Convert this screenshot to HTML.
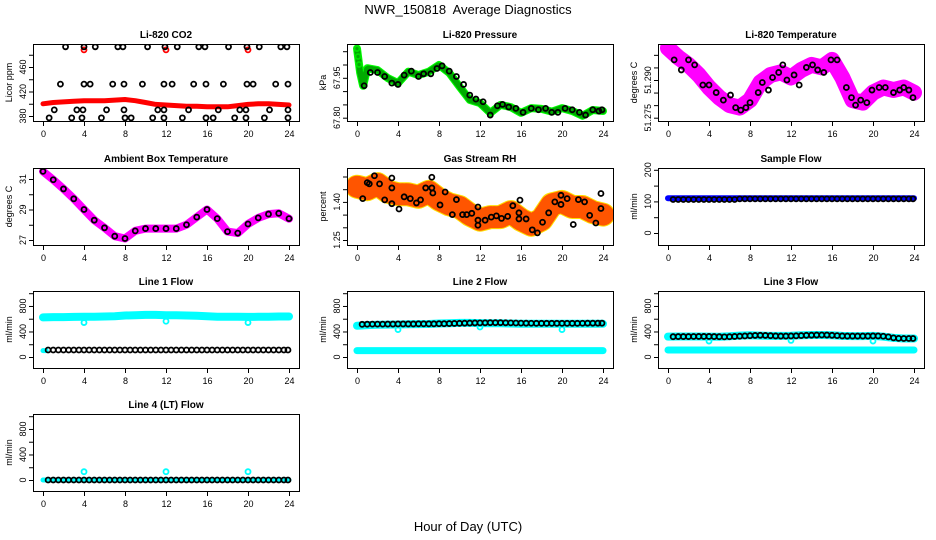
<!DOCTYPE html>
<html><head><meta charset="utf-8"><style>
html,body{margin:0;padding:0;background:#fff;}
svg{display:block;font-family:"Liberation Sans",sans-serif;}
</style></head><body>
<svg id="chart" width="936" height="540" viewBox="0 0 936 540" xmlns="http://www.w3.org/2000/svg">
<text x="468" y="14" font-size="13" text-anchor="middle" xml:space="preserve">NWR_150818  Average Diagnostics</text>
<text x="468" y="531" font-size="13" text-anchor="middle">Hour of Day (UTC)</text>
</svg>
<script>
// ---------- data ----------
const xTicks = [0,4,8,12,16,20,24];
const hours = [0,1,2,3,4,5,6,7,8,9,10,11,12,13,14,15,16,17,18,19,20,21,22,23,24];
const halfHours = [0.5,1,1.5,2,2.5,3,3.5,4,4.5,5,5.5,6,6.5,7,7.5,8,8.5,9,9.5,10,10.5,11,11.5,12,12.5,13,13.5,14,14.5,15,15.5,16,16.5,17,17.5,18,18.5,19,19.5,20,20.5,21,21.5,22,22.5,23,23.5,23.9];

const co2Red = [400,402,403,404,405,405,405,406,407,405,402,399,398,397,396,396,395,395,395,397,399,400,400,399,398];
const co2SpikeHours = [4,12,20];
const co2SpikeVals = [488,488,488];
const co2BlackHours = [2.2,4.0,5.1,7.3,7.8,10.2,11.9,13.1,15.2,15.8,18.1,19.9,21.1,23.2,23.8, 1.7,4.0,4.6,6.8,7.9,9.7,11.8,12.6,14.7,15.9,17.6,19.9,20.5,22.7,23.9, 1.1,3.3,3.9,6.2,7.9,11.2,11.8,14.2,17.1,19.2,19.8,22.1,23.9, 0.6,2.8,3.8,5.7,8.0,8.6,10.7,11.8,13.6,15.9,16.6,18.7,19.8,21.6,23.9];
const co2BlackVals = [493,493,493,493,493,493,493,493,493,493,493,493,493,493,493, 432,432,432,432,432,432,432,432,432,432,432,432,432,432,432, 390,390,390,390,390,390,390,390,390,390,390,390,390, 377,377,377,377,377,377,377,377,377,377,377,377,377,377,377];

const pressHours = [0,0.3,0.6,1,2,3,4,5,6,7,8,9,10,11,12,13,14,15,16,17,18,19,20,21,22,23,24];
const pressBand = [68.06,67.97,67.92,67.986,67.979,67.949,67.93,67.973,67.96,67.973,67.998,67.968,67.917,67.867,67.855,67.818,67.848,67.84,67.818,67.836,67.833,67.823,67.836,67.825,67.807,67.829,67.825];
const pressBlackHours = [0.7,1.3,2,2.7,3.4,4,4.6,5.3,6,6.5,7.2,7.8,8.3,9,9.7,10.4,11,11.6,12.3,13,13.7,14.2,14.8,15.5,16.2,17,17.7,18.4,19,19.6,20.3,21,21.7,22.3,23,23.6,23.9];
const pressBlack = [67.92,67.97,67.97,67.955,67.93,67.925,67.96,67.975,67.955,67.965,67.965,67.985,67.995,67.975,67.955,67.925,67.885,67.87,67.86,67.81,67.845,67.85,67.84,67.835,67.82,67.835,67.83,67.835,67.82,67.82,67.835,67.83,67.82,67.81,67.83,67.825,67.83];

const tempBand = [51.3027,51.299,51.296,51.292,51.287,51.283,51.280,51.279,51.282,51.289,51.292,51.293,51.291,51.294,51.296,51.295,51.298,51.291,51.282,51.281,51.285,51.287,51.286,51.287,51.285];
const tempBlackHours = [0.6,1.3,2,2.6,3.4,4,4.7,5.4,6.1,6.6,7.1,7.6,8,8.8,9.2,9.8,10.2,10.8,11.2,11.6,12.3,12.8,13.5,14.1,14.6,15.2,15.9,16.5,17.4,17.9,18.3,18.8,19.4,19.9,20.6,21.2,22,22.6,23,23.5,23.9];
const tempBlack = [51.298,51.294,51.298,51.296,51.288,51.288,51.285,51.282,51.284,51.279,51.278,51.279,51.281,51.285,51.289,51.286,51.291,51.293,51.296,51.290,51.292,51.288,51.295,51.296,51.294,51.293,51.298,51.298,51.287,51.283,51.280,51.282,51.281,51.286,51.287,51.287,51.285,51.286,51.287,51.286,51.283];

const ambBand = [31.5,30.95,30.35,29.7,29.0,28.3,27.8,27.25,27.1,27.6,27.75,27.75,27.75,27.75,28.0,28.5,29.0,28.4,27.55,27.45,28.05,28.45,28.7,28.75,28.4];

const rhBand = [1.46,1.45,1.47,1.44,1.43,1.43,1.42,1.44,1.41,1.39,1.38,1.35,1.33,1.34,1.34,1.36,1.33,1.31,1.33,1.39,1.40,1.38,1.38,1.36,1.35];
const rhBlackHours = [0.56,1.0,1.2,1.7,2.2,2.7,3.4,3.4,3.4,4.1,4.6,5.2,5.8,6.2,6.7,7.3,7.3,7.4,8.1,8.6,9.7,9.3,10.3,10.7,11.2,11.8,11.8,11.8,12.5,13.1,13.6,14.1,14.7,15.2,15.9,15.8,15.8,16.5,17.1,17.6,18.1,18.7,19.3,19.9,19.9,20.5,21.1,21.6,22.2,22.7,23.3,23.8,23.8];
const rhBlack = [1.413,1.476,1.471,1.503,1.471,1.408,1.494,1.455,1.393,1.372,1.42,1.413,1.396,1.408,1.455,1.497,1.455,1.435,1.388,1.439,1.409,1.35,1.35,1.35,1.355,1.38,1.328,1.308,1.328,1.34,1.345,1.335,1.343,1.385,1.407,1.357,1.333,1.333,1.29,1.278,1.32,1.357,1.40,1.426,1.39,1.413,1.311,1.409,1.40,1.347,1.317,1.433,1.374];

const sampleBlue = [110,110,110,110,110,110,110,110,110,110,110,110,110,110,110,110,110,110,110,110,110,110,110,110,110];
const sampleBlack = [106,106,106,106,106,106,106,106,106,106,106,106,106,108,108,108,108,108,108,108,108,108,108,108,108,108,108,108,108,108,108,108,108,108,108,108,108,108,108,108,108,108,108,108,108,108,108,108];

const l1CyanHi = [620,625,625,628,630,632,635,640,650,655,660,660,655,655,650,645,640,632,630,630,628,630,632,635,635];
const l1CyanLo = [100,100,100,100,100,100,100,100,100,100,100,100,100,100,100,100,100,100,100,100,100,100,100,100,100];
const l1Black = [110,110,110,110,110,110,110,110,110,110,110,110,110,110,110,110,110,110,110,110,110,110,110,110,110,110,110,110,110,110,110,110,110,110,110,110,110,110,110,110,110,110,110,110,110,110,110,110];
const l1DipVals = [540,560,540];

const l2CyanHi = [490,500,505,508,510,512,515,518,525,530,535,535,532,530,528,525,522,520,520,520,520,520,520,520,520];
const l2CyanLo = [100,100,100,100,100,100,100,100,100,100,100,100,100,100,100,100,100,100,100,100,100,100,100,100,100];
const l2Black = [512,514,515,515,515,516,516,518,518,518,518,520,520,520,520,522,522,524,526,528,530,532,534,535,536,538,538,538,536,535,533,531,530,529,528,528,528,528,528,528,528,528,528,529,530,530,530,530];
const l2DipVals = [430,470,430];

const l3CyanHi = [320,322,322,322,320,318,325,335,340,335,330,330,332,340,345,345,340,330,328,328,330,320,300,290,290];
const l3CyanLo = [110,110,110,110,110,110,110,110,110,110,110,110,110,110,110,110,110,110,110,110,110,110,110,110,110];
const l3Black = [318,320,320,320,321,322,322,322,320,318,316,318,322,326,330,334,338,340,338,334,330,328,328,330,332,336,340,342,344,345,344,340,335,330,328,328,328,328,328,330,330,325,315,300,292,290,290,290];
const l3DipVals = [250,260,250];

const l4Cyan = [0,0,0,0,0,0,0,0,0,0,0,0,0,0,0,0,0,0,0,0,0,0,0,0,0];
const l4Black = [0,0,0,0,0,0,0,0,0,0,0,0,0,0,0,0,0,0,0,0,0,0,0,0,0,0,0,0,0,0,0,0,0,0,0,0,0,0,0,0,0,0,0,0,0,0,0,0];
const l4SpikeVals = [130,130,130];
const dipHours = [4,12,20];

// ---------- helpers ----------
const svg = document.getElementById('chart');
const NS = 'http://www.w3.org/2000/svg';
const colLeft = [33,347,658], rowTop = [44,168,291,414], W = 266, H = 77;
function mk(tag, attrs, parent){
  const e = document.createElementNS(NS, tag);
  for (const k in attrs) e.setAttribute(k, attrs[k]);
  (parent||svg).appendChild(e);
  return e;
}
function panel(name, title, ytitle, col, row, refVal, refOff, ppu, yTicks, yLabels){
  const L = colLeft[col], T = rowTop[row];
  const g = mk('g', {});
  
  
  const xs = h => L + 10 + h * (W - 20) / 24;
  const ys = v => T + refOff - (v - refVal) * ppu;
  const t = mk('text', {x: L + W/2, y: T - 6, 'font-size': 10, 'font-weight': 'bold', 'text-anchor': 'middle'}, g);
  t.textContent = title;
  
  
  const yt = mk('text', {x: 0, y: 0, 'font-size': 9, 'text-anchor': 'middle', transform: `translate(${L-21},${T+H/2}) rotate(-90)`}, g);
  yt.textContent = ytitle;
  
  
  const clipId = 'clip-' + name;
  const cp = mk('clipPath', {id: clipId}, g);
  mk('rect', {x: L+1, y: T+1, width: W-1, height: H-1}, cp);
  const plot = mk('g', {'clip-path': `url(#${clipId})`}, g);
  
  
  const frame = mk('g', {}, g);
  
  
  mk('rect', {x: L+.5, y: T+.5, width: W, height: H, fill: 'none', stroke: '#000', 'stroke-width': 1}, frame);
  mk('line', {x1: xs(0), x2: xs(24), y1: T+H+.5, y2: T+H+.5, stroke: '#000'}, frame);
  xTicks.forEach(v => {
    mk('line', {x1: xs(v)+.5, x2: xs(v)+.5, y1: T+H, y2: T+H+5, stroke: '#000'}, frame);
    const tx = mk('text', {x: xs(v)+.5, y: T+H+16, 'font-size': 9, 'text-anchor': 'middle'}, frame);
    tx.textContent = v;
    
    
  });
  mk('line', {x1: L+.5, x2: L+.5, y1: ys(yTicks[0]), y2: ys(yTicks[yTicks.length-1]), stroke: '#000'}, frame);
  yTicks.forEach(v => {
    mk('line', {x1: L-4, x2: L, y1: ys(v)+.5, y2: ys(v)+.5, stroke: '#000'}, frame);
  });
  yLabels.forEach(v => {
    const ty = mk('text', {x: 0, y: 0, 'font-size': 9, 'text-anchor': 'middle', transform: `translate(${L-7},${ys(v)}) rotate(-90)`}, frame);
    ty.textContent = String(v);
    
    
  });
  return {xs, ys, plot, L, T};
}
function band(p, hs, vals, color, width, nm){
  const pts = hs.map((h,i) => p.xs(h).toFixed(1) + ',' + p.ys(vals[i]).toFixed(1)).join(' ');
  const e = mk('polyline', {points: pts, fill: 'none', stroke: color, 'stroke-width': width, 'stroke-linejoin': 'round', 'stroke-linecap': 'round'}, p.plot);
  
  
  return e;
}
function dots(p, hs, vals, color, nm, r){
  hs.forEach((h,i) => {
    const c = mk('circle', {cx: p.xs(h), cy: p.ys(vals[i]), r: r||2.5, fill: 'none', stroke: color, 'stroke-width': 1.8}, p.plot);
    
    
  });
}

// ---------- panels ----------
let p;
p = panel('co2', 'Li-820 CO2', 'Licor ppm', 0, 0, 380, 72, 0.6125, [380,400,420,440,460,480], [380,420,460]);
band(p, hours, co2Red, '#f00', 5, 'co2-red-band');
dots(p, co2SpikeHours, co2SpikeVals, '#f00', 'co2-red-point');
dots(p, co2BlackHours, co2BlackVals, '#000', 'co2-black-point');

p = panel('pressure', 'Li-820 Pressure', 'kPa', 1, 0, 67.80, 73.7, 266, [67.80,67.85,67.90,67.95,68.00,68.05], ['67.80','67.95']);
band(p, pressHours, pressBand, '#00ff00', 8, 'pressure-green-band');
band(p, pressHours, pressBand, '#00aa00', 6, 'pressure-green-dots').setAttribute('stroke-dasharray', '1 2');
dots(p, [0,0.1,0.2], [68.06,68.03,68.0], '#00e000', 'pressure-green-point');
dots(p, pressBlackHours, pressBlack, '#000', 'pressure-black-point');

p = panel('temperature', 'Li-820 Temperature', 'degrees C', 2, 0, 51.275, 73.7, 2514, [51.275,51.280,51.285,51.290,51.295,51.300], ['51.275','51.290']);
band(p, hours, tempBand, '#f0f', 16, 'temperature-magenta-band');
dots(p, tempBlackHours, tempBlack, '#000', 'temperature-black-point');

p = panel('ambient', 'Ambient Box Temperature', 'degrees C', 0, 1, 27, 72, 15.25, [27,28,29,30,31], [27,29,31]);
band(p, hours, ambBand, '#f0f', 8, 'ambient-magenta-band');
dots(p, hours, ambBand, '#000', 'ambient-black-point');

p = panel('rh', 'Gas Stream RH', 'percent', 1, 1, 1.25, 72, 254, [1.25,1.30,1.35,1.40,1.45,1.50], ['1.25','1.40']);
band(p, hours, rhBand, '#ffdd00', 24, 'rh-yellow-band');
band(p, hours, rhBand, '#ff5500', 22, 'rh-orange-dots').setAttribute('stroke-dasharray', '1.5 2');
dots(p, rhBlackHours, rhBlack, '#000', 'rh-black-point');

p = panel('sample-flow', 'Sample Flow', 'ml/min', 2, 1, 0, 65, 0.316, [0,50,100,150,200], [0,100,200]);
band(p, hours, sampleBlue, '#0000ff', 6, 'sample-blue-band');
dots(p, halfHours, sampleBlack, '#000', 'sample-black-point');

const flowTicks = [0,200,400,600,800,1000], flowLabels = [0,400,800];
p = panel('line1', 'Line 1 Flow', 'ml/min', 0, 2, 0, 66, 0.0638, flowTicks, flowLabels);
band(p, hours, l1CyanHi, '#00ffff', 8, 'line1-cyan-band');
band(p, [0,0.3], [l1CyanLo[0], l1CyanLo[1]], '#00ffff', 5, 'line1-cyan-low');
dots(p, dipHours, l1DipVals, '#00ffff', 'line1-cyan-dip', 2.5);
dots(p, halfHours, l1Black, '#000', 'line1-black-point');

p = panel('line2', 'Line 2 Flow', 'ml/min', 1, 2, 0, 66, 0.0638, flowTicks, flowLabels);
band(p, hours, l2CyanHi, '#00ffff', 8, 'line2-cyan-band');
band(p, hours, l2CyanLo, '#00ffff', 7, 'line2-cyan-low');
dots(p, dipHours, l2DipVals, '#00ffff', 'line2-cyan-dip', 2.5);
dots(p, halfHours, l2Black, '#000', 'line2-black-point');

p = panel('line3', 'Line 3 Flow', 'ml/min', 2, 2, 0, 66, 0.0638, flowTicks, flowLabels);
band(p, hours, l3CyanHi, '#00ffff', 8, 'line3-cyan-band');
band(p, hours, l3CyanLo, '#00ffff', 7, 'line3-cyan-low');
dots(p, dipHours, l3DipVals, '#00ffff', 'line3-cyan-dip', 2.5);
dots(p, halfHours, l3Black, '#000', 'line3-black-point');

p = panel('line4', 'Line 4 (LT) Flow', 'ml/min', 0, 3, 0, 66, 0.0638, flowTicks, flowLabels);
band(p, hours, l4Cyan, '#00ffff', 5, 'line4-cyan-band');
dots(p, dipHours, l4SpikeVals, '#00ffff', 'line4-cyan-spike', 2.5);
dots(p, halfHours, l4Black, '#000', 'line4-black-point');
</script>
</body></html>
